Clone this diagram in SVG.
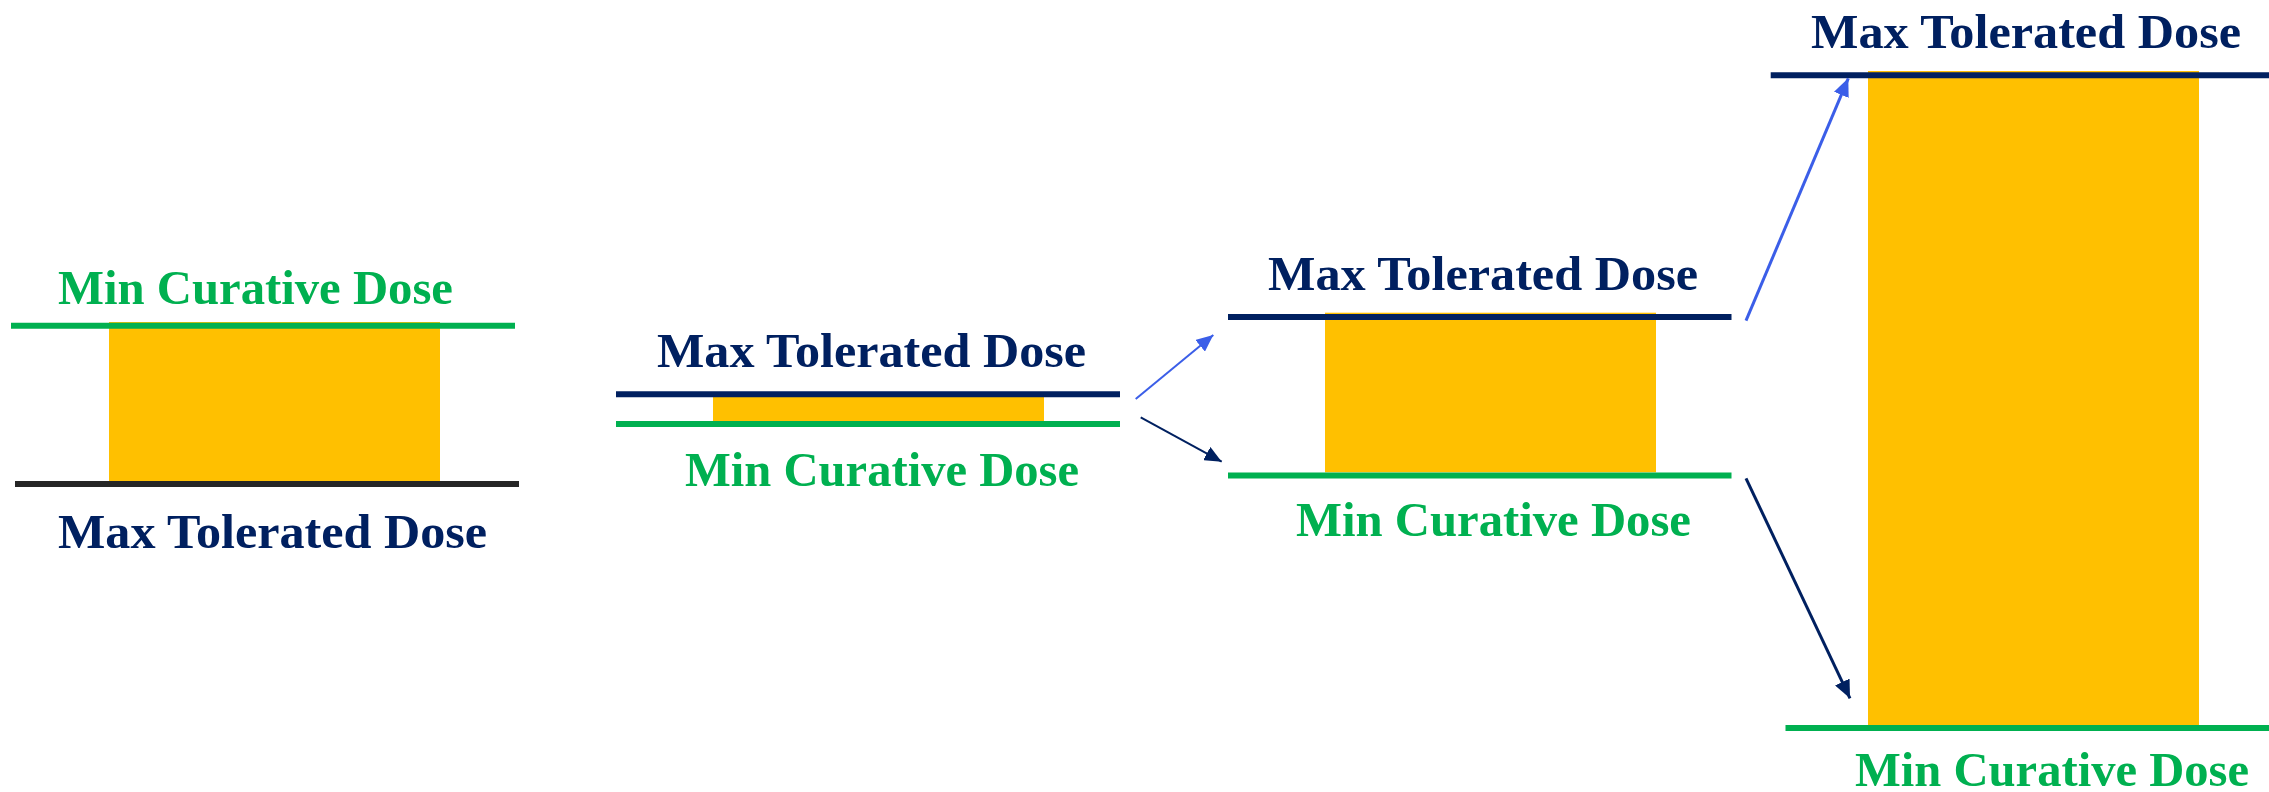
<svg xmlns="http://www.w3.org/2000/svg" width="2269" height="792" viewBox="0 0 2269 792">
<style>
.bg{fill:#FFFFFF}
.bar{fill:#FFC000}
.ln{stroke-width:6;fill:none}
.g{stroke:#00B050}
.n{stroke:#002060}
.k{stroke:#262626}
.t{font-family:"Liberation Serif","Times New Roman",serif;font-weight:bold;font-size:48px}
.tg{fill:#00B050}
.tn{fill:#002060}
.arr{fill:none}
</style>
<defs>
<marker id="hbS" markerUnits="userSpaceOnUse" markerWidth="18" markerHeight="15" refX="17" refY="7.5" orient="auto"><path d="M0,0 L17,7.5 L0,15 z" fill="#3B5EE8"/></marker>
<marker id="hnS" markerUnits="userSpaceOnUse" markerWidth="18" markerHeight="15" refX="17" refY="7.5" orient="auto"><path d="M0,0 L17,7.5 L0,15 z" fill="#002060"/></marker>
<marker id="hbL" markerUnits="userSpaceOnUse" markerWidth="19" markerHeight="16" refX="18" refY="8" orient="auto"><path d="M0,0 L18,8 L0,16 z" fill="#3B5EE8"/></marker>
<marker id="hnL" markerUnits="userSpaceOnUse" markerWidth="19" markerHeight="16" refX="18" refY="8" orient="auto"><path d="M0,0 L18,8 L0,16 z" fill="#002060"/></marker>
</defs>
<rect class="bg" x="0" y="0" width="2269" height="792"/>

<g id="panel1">
<rect class="bar" x="109" y="322" width="331" height="159"/>
<line class="ln g" x1="11" y1="325.7" x2="515" y2="325.7"/>
<line class="ln k" x1="15" y1="484" x2="519" y2="484"/>
<text class="t tg" x="58" y="304" textLength="395" lengthAdjust="spacingAndGlyphs">Min Curative Dose</text>
<text class="t tn" x="58" y="548" textLength="429" lengthAdjust="spacingAndGlyphs">Max Tolerated Dose</text>
</g>

<g id="panel2">
<rect class="bar" x="713" y="397" width="331" height="24"/>
<line class="ln n" x1="616" y1="394.2" x2="1120" y2="394.2"/>
<line class="ln g" x1="616" y1="424" x2="1120" y2="424"/>
<text class="t tn" x="657" y="367" textLength="429" lengthAdjust="spacingAndGlyphs">Max Tolerated Dose</text>
<text class="t tg" x="685" y="486" textLength="394" lengthAdjust="spacingAndGlyphs">Min Curative Dose</text>
</g>

<g id="panel3">
<rect class="bar" x="1325" y="312.7" width="331" height="159.6"/>
<line class="ln n" x1="1228" y1="317" x2="1731.5" y2="317"/>
<line class="ln g" x1="1228" y1="475.5" x2="1731.5" y2="475.5"/>
<text class="t tn" x="1268" y="290" textLength="430" lengthAdjust="spacingAndGlyphs">Max Tolerated Dose</text>
<text class="t tg" x="1296" y="536" textLength="395" lengthAdjust="spacingAndGlyphs">Min Curative Dose</text>
</g>

<g id="panel4">
<rect class="bar" x="1868" y="71" width="331" height="654"/>
<line class="ln n" x1="1770.7" y1="75.3" x2="2269" y2="75.3"/>
<line class="ln g" x1="1785.5" y1="728" x2="2269" y2="728"/>
<text class="t tn" x="1811" y="48" textLength="430" lengthAdjust="spacingAndGlyphs">Max Tolerated Dose</text>
<text class="t tg" x="1855" y="786" textLength="394" lengthAdjust="spacingAndGlyphs">Min Curative Dose</text>
</g>

<g id="connectors">
<line class="arr" x1="1135.7" y1="399" x2="1213.3" y2="335" stroke="#3B5EE8" stroke-width="2" marker-end="url(#hbS)"/>
<line class="arr" x1="1140.7" y1="417.3" x2="1221.7" y2="461.7" stroke="#002060" stroke-width="2" marker-end="url(#hnS)"/>
<line class="arr" x1="1746" y1="320.7" x2="1848.3" y2="78.3" stroke="#3B5EE8" stroke-width="3" marker-end="url(#hbL)"/>
<line class="arr" x1="1746" y1="478.3" x2="1850" y2="698.3" stroke="#002060" stroke-width="3" marker-end="url(#hnL)"/>
</g>
</svg>
